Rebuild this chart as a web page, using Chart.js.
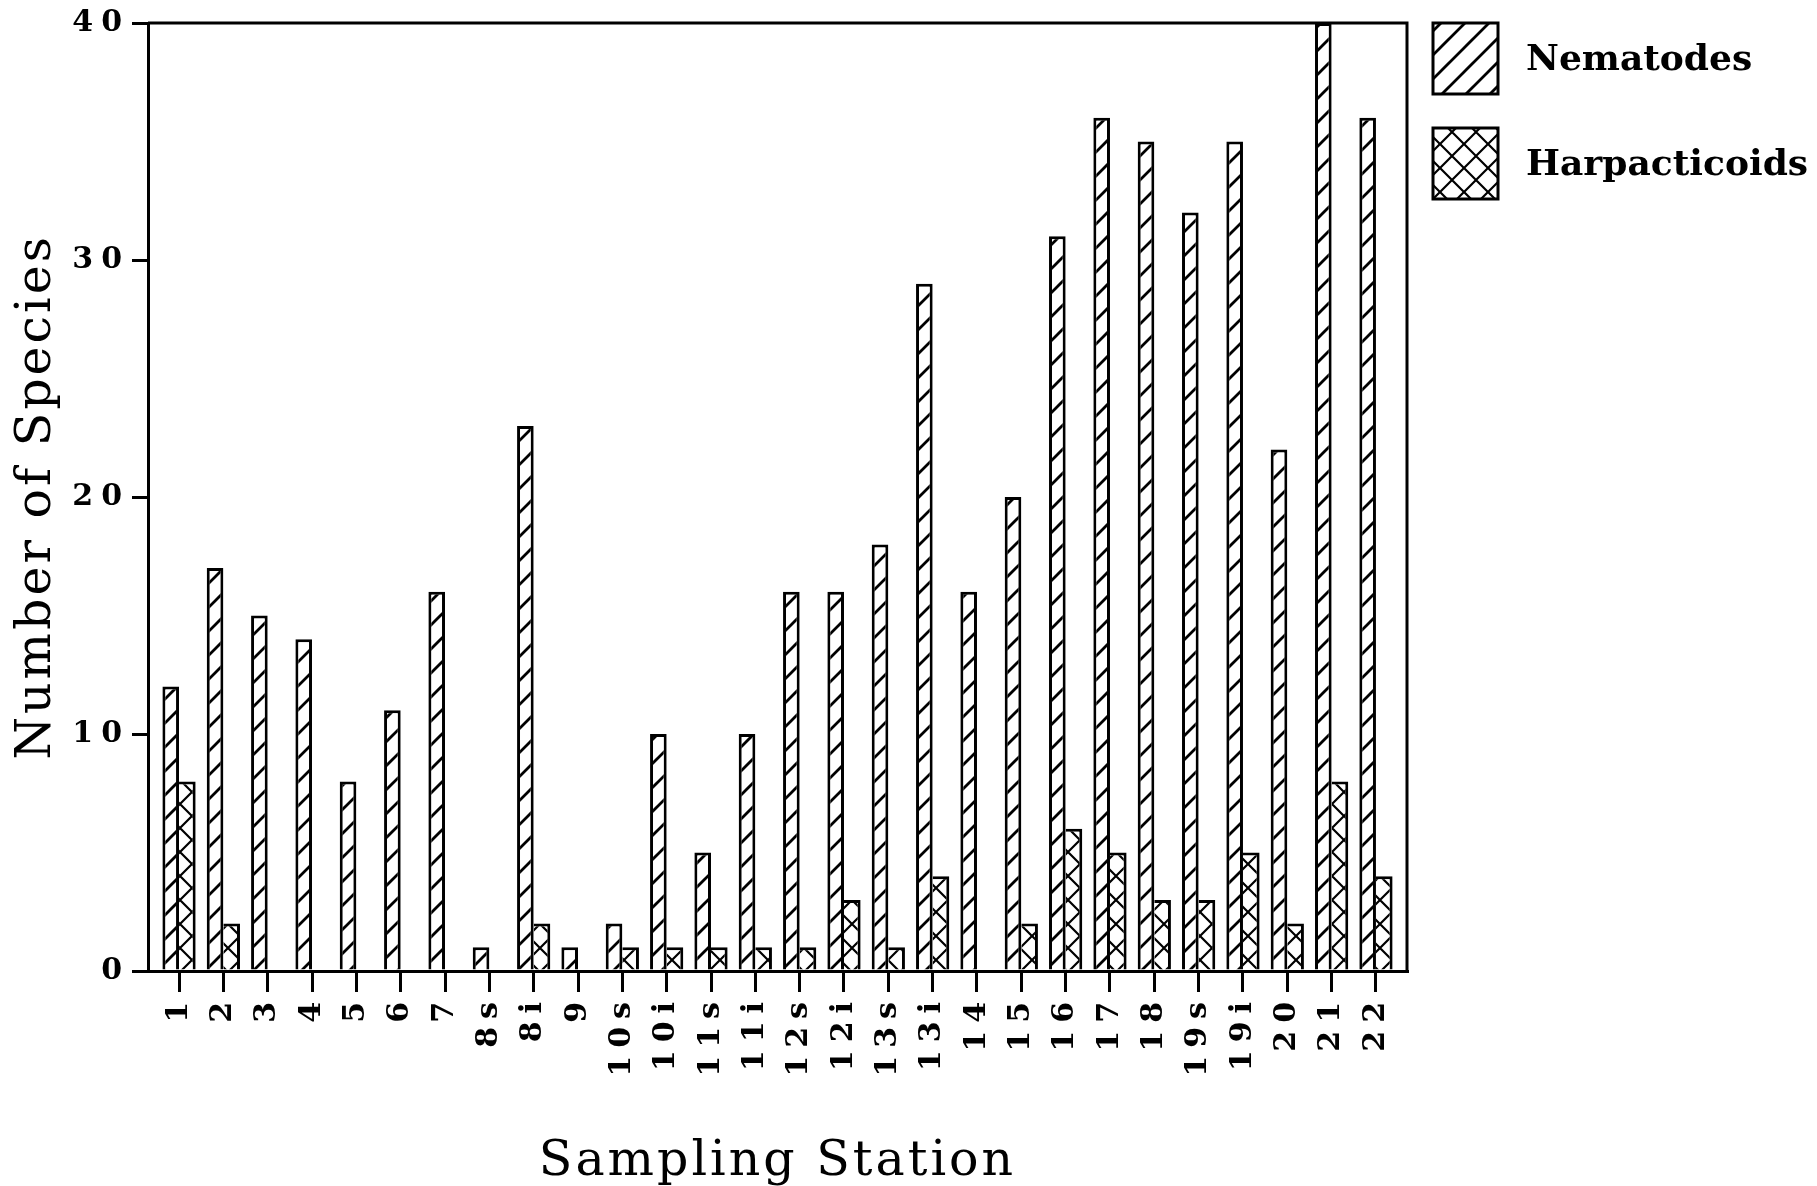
<!DOCTYPE html>
<html><head><meta charset="utf-8">
<script src="https://cdn.jsdelivr.net/npm/chart.js@4.4.1/dist/chart.umd.min.js"></script>
<style>html,body{margin:0;padding:0;background:#fff;}canvas{display:block;}</style>
</head><body>
<canvas id="c" width="1817" height="1186"></canvas>
<script>
const stations = ['1','2','3','4','5','6','7','8s','8i','9','10s','10i','11s','11i','12s','12i','13s','13i','14','15','16','17','18','19s','19i','20','21','22'];
const nematodes = [12,17,15,14,8,11,16,1,23,1,2,10,5,10,16,16,18,29,16,20,31,36,35,32,35,22,40,36];
const harpacticoids = [8,2,0,0,0,0,0,0,2,0,1,1,1,1,1,3,1,4,0,2,6,5,3,3,5,2,8,4];
const yTicks = [0,10,20,30,40];
const seriesNames = ['Nematodes','Harpacticoids'];

const canvas = document.getElementById('c');
const mainCtx = canvas.getContext('2d');

function makeHatch(cross){
  const s = 24, c = document.createElement('canvas');
  c.width = s; c.height = s;
  const g = c.getContext('2d');
  g.fillStyle = '#fff'; g.fillRect(0,0,s,s);
  g.strokeStyle = '#000'; g.lineWidth = cross ? 2.2 : 2.8;
  g.beginPath();
  g.moveTo(-3, s+3); g.lineTo(s+3, -3);
  g.moveTo(-3, 3); g.lineTo(3, -3);
  g.moveTo(s-3, s+3); g.lineTo(s+3, s-3);
  if (cross){
    g.moveTo(-3, -3); g.lineTo(s+3, s+3);
    g.moveTo(s-3, -3); g.lineTo(s+3, 3);
    g.moveTo(-3, s-3); g.lineTo(3, s+3);
  }
  g.stroke();
  return mainCtx.createPattern(c, 'repeat');
}

const patterns = [makeHatch(false), makeHatch(true)];
const seriesValues = [nematodes, harpacticoids];
const borders = [{top: 3, left: 3, right: 3, bottom: 0}, {top: 3, left: 0, right: 3, bottom: 0}];

const datasets = seriesNames.map((name, k) => ({
  label: name,
  data: stations.map((s, i) => ({x: i, y: seriesValues[k][i]})),
  backgroundColor: patterns[k],
  borderColor: '#000',
  borderWidth: borders[k],
  borderSkipped: false,
  categoryPercentage: 0.75,
  barPercentage: 1.0
}));

const titleFont = {family: '"DejaVu Serif"', weight: 'normal', size: 49};

const decor = {
  id: 'decor',
  beforeDraw(chart){
    const ctx = chart.ctx;
    ctx.save(); ctx.fillStyle = '#fff'; ctx.fillRect(0,0,chart.width,chart.height); ctx.restore();
    ctx.letterSpacing = '3px';
  },
  afterDatasetsDraw(chart){
    const ctx = chart.ctx, a = chart.chartArea;
    ctx.save();
    ctx.strokeStyle = '#000'; ctx.lineWidth = 3;
    ctx.beginPath();
    ctx.moveTo(a.left, a.top); ctx.lineTo(a.right, a.top); ctx.lineTo(a.right, a.bottom);
    ctx.stroke();
    ctx.restore();
    ctx.letterSpacing = '8px';
  },
  afterDraw(chart){
    const ctx = chart.ctx, a = chart.chartArea;
    ctx.letterSpacing = '0px';
    ctx.save();
    chart.data.datasets.forEach((ds, i) => {
      const x = a.right + 26, y = a.top + i * 105, w = 65, h = 71;
      ctx.fillStyle = ds.backgroundColor; ctx.fillRect(x, y, w, h);
      ctx.lineWidth = 3; ctx.strokeStyle = '#000'; ctx.strokeRect(x, y, w, h);
      ctx.fillStyle = '#000';
      ctx.font = 'bold 36px "DejaVu Serif"';
      ctx.textBaseline = 'middle'; ctx.textAlign = 'left';
      ctx.fillText(ds.label, x + 93, y + h/2 + 2);
    });
    ctx.restore();
  }
};

new Chart(canvas, {
  type: 'bar',
  data: {datasets},
  options: {
    responsive: false,
    animation: false,
    devicePixelRatio: 1,
    layout: {padding: {top: 23, right: 410, left: 0, bottom: 0}},
    plugins: {legend: {display: false}, tooltip: {enabled: false}, title: {display: false}},
    scales: {
      x: {
        type: 'linear', min: -0.7, max: 27.7, bounds: 'data', offset: false,
        afterBuildTicks: s => { s.ticks = stations.map((_, i) => ({value: i})); },
        afterFit: s => { s.height = 215; s.paddingLeft = 0; s.paddingRight = 0; },
        ticks: {
          callback: v => stations[v], autoSkip: false, maxRotation: 90, minRotation: 90,
          font: {family: '"DejaVu Serif"', weight: 'bold', size: 30}, color: '#000', padding: 2, z: 1
        },
        grid: {display: true, offset: false, drawOnChartArea: false, drawTicks: true, tickLength: 21, color: '#000', lineWidth: 3},
        border: {display: true, color: '#000', width: 3},
        title: {display: true, text: 'Sampling Station', font: titleFont, color: '#000', padding: {top: 0, bottom: -6}}
      },
      y: {
        min: 0, max: 40,
        afterBuildTicks: s => { s.ticks = yTicks.map(v => ({value: v})); },
        afterFit: s => { s.width = 148; s.paddingTop = 0; s.paddingBottom = 0; },
        ticks: {font: {family: '"DejaVu Serif"', weight: 'bold', size: 30}, color: '#000', padding: 2, z: 1},
        grid: {display: true, drawOnChartArea: false, drawTicks: true, tickLength: 16, color: '#000', lineWidth: 3},
        border: {display: true, color: '#000', width: 3},
        title: {display: true, text: 'Number of Species', font: titleFont, color: '#000', padding: {top: 8, bottom: 0}}
      }
    }
  },
  plugins: [decor]
});
</script>
</body></html>
